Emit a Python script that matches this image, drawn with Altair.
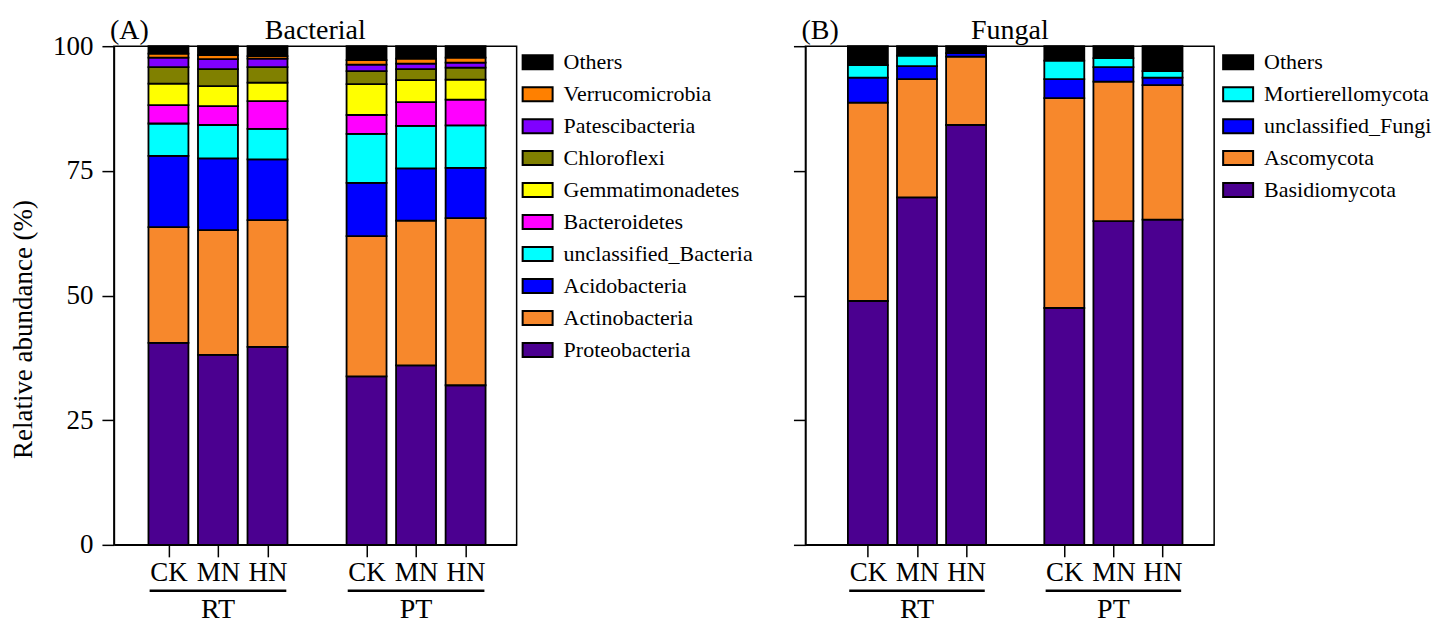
import altair as alt
import pandas as pd

FONT = "Liberation Serif"

# ---------------- data ----------------
treatments = ["CK", "MN", "HN", "CK", "MN", "HN"]
tillage = ["RT", "RT", "RT", "PT", "PT", "PT"]
positions = [1, 2, 3, 5, 6, 7]
group_names = ["RT", "PT"]
group_mid = [2, 6]

# bacterial taxa, bottom -> top of the stack
bac_taxa = ["Proteobacteria", "Actinobacteria", "Acidobacteria", "unclassified_Bacteria",
            "Bacteroidetes", "Gemmatimonadetes", "Chloroflexi", "Patescibacteria",
            "Verrucomicrobia", "Others"]
bac_colors = ["#4B0090", "#F7882C", "#0000FF", "#00FFFF", "#FF00FF", "#FFFF00",
              "#808000", "#8000FF", "#FF8000", "#000000"]
# relative abundance (%) per sample: RT-CK, RT-MN, RT-HN, PT-CK, PT-MN, PT-HN
proteobacteria = [40.5, 38.1, 39.7, 33.8, 36.0, 32.0]
actinobacteria = [23.2, 25.0, 25.4, 28.1, 29.0, 33.5]
acidobacteria = [14.3, 14.4, 12.2, 10.7, 10.5, 10.1]
unclassified_bacteria = [6.5, 6.7, 6.1, 9.8, 8.5, 8.5]
bacteroidetes = [3.7, 3.8, 5.6, 3.8, 4.8, 5.2]
gemmatimonadetes = [4.3, 4.0, 3.7, 6.2, 4.4, 4.0]
chloroflexi = [3.3, 3.4, 3.1, 2.6, 2.2, 2.4]
patescibacteria = [1.9, 2.0, 1.7, 1.3, 1.1, 1.0]
verrucomicrobia = [0.8, 0.8, 0.5, 0.9, 1.0, 1.0]
bac_others = [1.5, 1.8, 2.0, 2.8, 2.5, 2.3]
bac_values = [proteobacteria, actinobacteria, acidobacteria, unclassified_bacteria,
              bacteroidetes, gemmatimonadetes, chloroflexi, patescibacteria,
              verrucomicrobia, bac_others]

# fungal taxa, bottom -> top of the stack
fun_taxa = ["Basidiomycota", "Ascomycota", "unclassified_Fungi", "Mortierellomycota", "Others"]
fun_colors = ["#4B0090", "#F7882C", "#0000FF", "#00FFFF", "#000000"]
basidiomycota = [48.9, 69.7, 84.2, 47.5, 64.9, 65.2]
ascomycota = [39.8, 23.7, 13.7, 42.1, 28.0, 27.0]
unclassified_fungi = [5.0, 2.6, 0.7, 3.8, 2.9, 1.5]
mortierellomycota = [2.5, 2.1, 0.0, 3.7, 1.8, 1.3]
fun_others = [3.8, 1.9, 1.4, 2.9, 2.4, 5.0]
fun_values = [basidiomycota, ascomycota, unclassified_fungi, mortierellomycota, fun_others]


def long_table(taxa, values):
    rows = []
    for i, pos in enumerate(positions):
        for rank, (taxon, series) in enumerate(zip(taxa, values)):
            rows.append({"pos": pos, "treatment": treatments[i], "tillage": tillage[i],
                         "taxon": taxon, "rank": rank, "value": series[i]})
    return pd.DataFrame(rows)


bac_df = long_table(bac_taxa, bac_values)
fun_df = long_table(fun_taxa, fun_values)

HALF_SPAN = 1.38
groups_df = pd.DataFrame({"group": group_names, "mid": group_mid,
                          "start": [m - HALF_SPAN for m in group_mid],
                          "end": [m + HALF_SPAN for m in group_mid]})

H = 499
LABEL_EXPR = "['', 'CK', 'MN', 'HN', '', 'CK', 'MN', 'HN'][datum.value]"
SYMBOL = "M-1,-0.467H1V0.467H-1Z"


def panel(df, taxa, colors, title, tag, xdomain, width, first, legend_x):
    xscale = alt.Scale(domain=xdomain, nice=False, zero=False)
    yaxis = alt.Axis(values=[0, 25, 50, 75, 100], tickSize=12, tickWidth=1.5,
                     domainWidth=1.5, labelFontSize=27, labelPadding=9,
                     labels=first, grid=False,
                     title="Relative abundance (%)" if first else None,
                     titleFontSize=27, titleFontWeight="normal", titlePadding=15,
                     titleY=283)
    bars = alt.Chart(df).mark_bar(width=40, stroke="black", strokeWidth=1.8).encode(
        x=alt.X("pos:Q", scale=xscale,
                axis=alt.Axis(values=positions, labelExpr=LABEL_EXPR, tickSize=12,
                              tickWidth=1.5, domainWidth=1.5, labelFontSize=27,
                              labelPadding=3, grid=False, title=None)),
        y=alt.Y("value:Q", stack="zero", scale=alt.Scale(domain=[0, 100], nice=False),
                axis=yaxis),
        color=alt.Color("taxon:N",
                        scale=alt.Scale(domain=taxa[::-1], range=colors[::-1]),
                        legend=alt.Legend(orient="none", legendX=legend_x, legendY=0,
                                          title=None, symbolType=SYMBOL, symbolSize=900,
                                          symbolStrokeColor="black", symbolStrokeWidth=2,
                                          symbolOpacity=1, labelFont=FONT,
                                          labelFontSize=22, labelColor="black",
                                          labelOffset=10, rowPadding=4, labelLimit=400)),
        order=alt.Order("rank:Q", sort="ascending"),
    )
    underline = alt.Chart(groups_df).mark_rule(color="black", strokeWidth=2.5).encode(
        x=alt.X("start:Q", scale=xscale, title=None), x2="end:Q", y=alt.value(H + 46))
    glabel = alt.Chart(groups_df).mark_text(font=FONT, fontSize=28, color="black",
                                            baseline="alphabetic").encode(
        x=alt.X("mid:Q", scale=xscale, title=None), y=alt.value(H + 73), text="group:N")
    tagtext = alt.Chart(pd.DataFrame({"t": [tag]})).mark_text(
        font=FONT, fontSize=28, color="black", align="left", baseline="alphabetic").encode(
        x=alt.value(-4), y=alt.value(-7), text="t:N")
    titletext = alt.Chart(pd.DataFrame({"t": [title]})).mark_text(
        font=FONT, fontSize=28, color="black", align="center", baseline="alphabetic").encode(
        x=alt.value(width / 2), y=alt.value(-7), text="t:N")
    return alt.layer(bars, underline, glabel, tagtext, titletext).properties(
        width=width, height=H)


left = panel(bac_df, bac_taxa, bac_colors, "Bacterial", "(A)", [0, 7.93], 403, True, 408)
right = panel(fun_df, fun_taxa, fun_colors, "Fungal", "(B)", [-0.17, 7.95], 409, False, 417)

chart = alt.hconcat(left, right, spacing=37).resolve_scale(color="independent").properties(
    padding={"left": 0, "top": 8, "right": 0, "bottom": 0}
).configure(font=FONT).configure_view(stroke="black", strokeWidth=1.5).configure_axis(
    domainColor="black", tickColor="black", labelColor="black", titleColor="black",
    labelFont=FONT, titleFont=FONT).configure_legend(labelFont=FONT)

chart.save("out.html", embed_options={"renderer": "svg", "actions": False})
